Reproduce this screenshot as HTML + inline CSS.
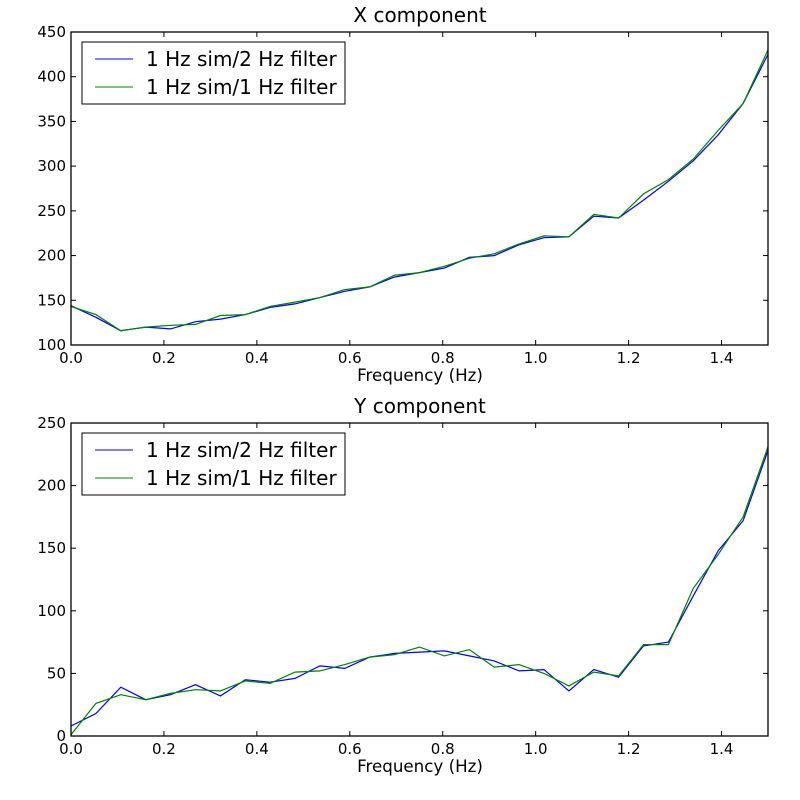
<!DOCTYPE html>
<html><head><meta charset="utf-8"><style>body{margin:0;background:#fff}svg{display:block}text{font-family:"DejaVu Sans","Liberation Sans",sans-serif}</style></head>
<body>
<svg id="s" width="800" height="800" xmlns="http://www.w3.org/2000/svg"></svg>
<script>
const s=document.getElementById('s');let h='<rect width="800" height="800" fill="#fff"/>';
const X0=71,X1=768,fx=v=>X0+v*(X1-X0)/1.5;
const xb=[144,131,116,120,118,126,129,134,142,146,153,160,165,176,181,186,198,200,212,220,221,244,242,262,283,306,335,370,425];
const xg=[143,134,116,120,122,123,133,134,143,148,153,162,165,178,181,188,197,202,213,222,221,246,242,269,285,308,340,370,430];
const yb=[8,18,39,29,33,41,32,45,43,46,56,54,63,66,67,68,64,60,52,53,36,53,47,72,75,112,148,172,228];
const yg=[1,26,33,29,34,37,36,44,42,51,52,57,63,65,71,64,69,55,57,50,40,51,48,73,73,118,145,175,231];
function panel(top,bot,lo,hi,step,title,b,g){
 const fy=v=>bot-(v-lo)*(bot-top)/(hi-lo);
 const pl=(d,c)=>'<polyline fill="none" stroke="'+c+'" stroke-width="1.2" points="'+d.map((v,i)=>fx(i*1.5/28).toFixed(1)+','+fy(v).toFixed(1)).join(' ')+'"/>';
 h+=pl(b,'#0000ff')+pl(g,'#008000');
 h+='<rect x="'+X0+'" y="'+top+'" width="'+(X1-X0)+'" height="'+(bot-top)+'" fill="none" stroke="#000" stroke-width="1.3"/>';
 for(let v=lo;v<=hi;v+=step){const y=fy(v);h+='<line x1="'+X0+'" x2="'+(X0+5)+'" y1="'+y+'" y2="'+y+'" stroke="#000"/><line x1="'+X1+'" x2="'+(X1-5)+'" y1="'+y+'" y2="'+y+'" stroke="#000"/><text x="'+(X0-5)+'" y="'+(y+5)+'" font-size="15" text-anchor="end">'+v+'</text>';}
 for(let k=0;k<=7;k++){const v=k*0.2;if(v>1.501)break;const x=fx(v);h+='<line x1="'+x+'" x2="'+x+'" y1="'+bot+'" y2="'+(bot-5)+'" stroke="#000"/><line x1="'+x+'" x2="'+x+'" y1="'+top+'" y2="'+(top+5)+'" stroke="#000"/><text x="'+x+'" y="'+(bot+18)+'" font-size="15" text-anchor="middle">'+v.toFixed(1)+'</text>';}
 h+='<text x="420" y="'+(bot+36)+'" font-size="16.7" text-anchor="middle">Frequency (Hz)</text>';
 h+='<text x="420" y="'+(top-10)+'" font-size="20" text-anchor="middle">'+title+'</text>';
 const ly=top+10;h+='<rect x="82" y="'+ly+'" width="263" height="62" fill="#fff" stroke="#000"/>';
 h+='<line x1="95" x2="133" y1="'+(ly+17)+'" y2="'+(ly+17)+'" stroke="#0000ff"/><text x="146" y="'+(ly+24)+'" font-size="20">1 Hz sim/2 Hz filter</text>';
 h+='<line x1="95" x2="133" y1="'+(ly+45)+'" y2="'+(ly+45)+'" stroke="#008000"/><text x="146" y="'+(ly+52)+'" font-size="20">1 Hz sim/1 Hz filter</text>';
}
panel(32,345,100,450,50,'X component',xb,xg);
panel(423,736,0,250,50,'Y component',yb,yg);
s.innerHTML=h;
</script>
</body></html>
